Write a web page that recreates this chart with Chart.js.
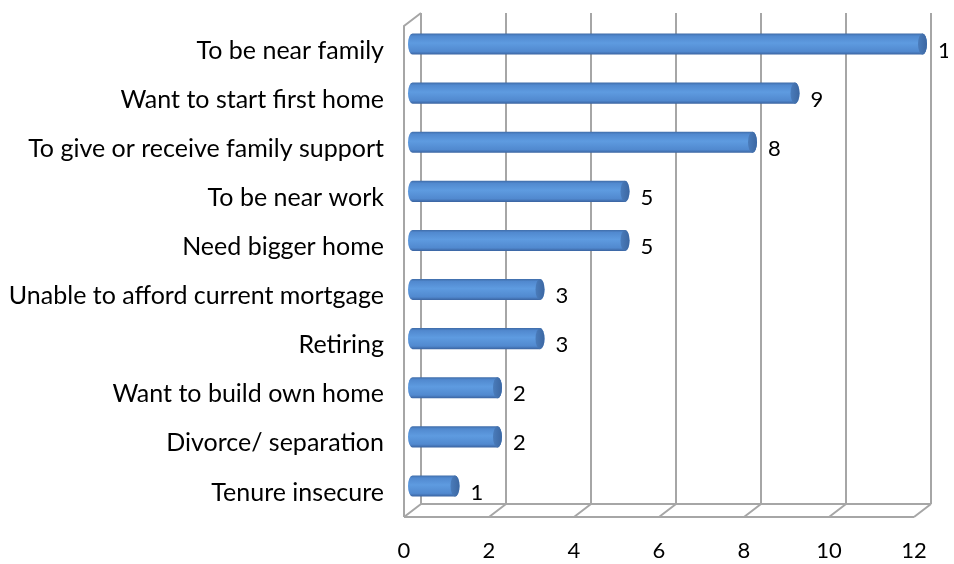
<!DOCTYPE html>
<html>
<head>
<meta charset="utf-8">
<script src="https://cdn.jsdelivr.net/npm/chart.js@4.4.1/dist/chart.umd.min.js"></script>
<style>
  html, body { margin: 0; padding: 0; background: #ffffff; }
  #wrap { position: relative; width: 954px; height: 564px; }
</style>
</head>
<body>
<div id="wrap"><canvas id="chart" width="954" height="564"></canvas></div>
<script>
// Reasons for moving, number of responses
const categories = [
  'To be near family',
  'Want to start first home',
  'To give or receive family support',
  'To be near work',
  'Need bigger home',
  'Unable to afford current mortgage',
  'Retiring',
  'Want to build own home',
  'Divorce/ separation',
  'Tenure insecure'
];
const counts = [12, 9, 8, 5, 5, 3, 3, 2, 2, 1];
const xTicks = [0, 2, 4, 6, 8, 10, 12];

// depth of the 3-D box: back plane is shifted right and up from the front plane
const DEPTH_X = 17;
const DEPTH_Y = 13;
const FONT = 'Lato, "Open Sans", sans-serif';

const frame3d = {
  id: 'frame3d',
  beforeDatasetsDraw(chart) {
    const { ctx, chartArea: ca, scales: { x } } = chart;
    const x0 = x.getPixelForValue(xTicks[0]);
    const xN = x.getPixelForValue(xTicks[xTicks.length - 1]);
    ctx.save();
    ctx.strokeStyle = '#a6a6a6';
    ctx.lineWidth = 2;
    ctx.lineCap = 'butt';
    // back wall gridlines
    xTicks.forEach(v => {
      const px = Math.round(x.getPixelForValue(v) + DEPTH_X);
      ctx.beginPath();
      ctx.moveTo(px, ca.top - DEPTH_Y);
      ctx.lineTo(px, ca.bottom - DEPTH_Y);
      ctx.stroke();
    });
    // left wall
    ctx.beginPath();
    ctx.moveTo(Math.round(x0), ca.bottom);
    ctx.lineTo(Math.round(x0), ca.top);
    ctx.lineTo(Math.round(x0) + DEPTH_X, ca.top - DEPTH_Y);
    ctx.stroke();
    // floor
    ctx.beginPath();
    ctx.moveTo(x0 + DEPTH_X, ca.bottom - DEPTH_Y);
    ctx.lineTo(xN + DEPTH_X, ca.bottom - DEPTH_Y);
    ctx.moveTo(x0, ca.bottom);
    ctx.lineTo(xN, ca.bottom);
    xTicks.forEach(v => {
      const px = x.getPixelForValue(v);
      ctx.moveTo(px, ca.bottom);
      ctx.lineTo(px + DEPTH_X, ca.bottom - DEPTH_Y);
    });
    ctx.stroke();
    ctx.restore();
  },
  afterDatasetsDraw(chart) {
    const { ctx, scales: { x } } = chart;
    const meta = chart.getDatasetMeta(0);
    const ox = DEPTH_X / 2, oy = -DEPTH_Y / 2;
    ctx.save();
    meta.data.forEach((bar) => {
      const p = bar.getProps(['x', 'y', 'base', 'height'], true);
      const yc = p.y + oy;
      const ry = p.height / 2;
      const rx = 4.5;
      const left = p.base + ox;
      const right = p.x + ox;
      const g = ctx.createLinearGradient(0, yc - ry, 0, yc + ry);
      g.addColorStop(0, '#3f6ca8');
      g.addColorStop(0.12, '#5189cf');
      g.addColorStop(0.45, '#5e9be0');
      g.addColorStop(0.85, '#5189cf');
      g.addColorStop(1, '#3a63a0');
      // body with rounded near end
      ctx.beginPath();
      ctx.ellipse(left, yc, rx, ry, 0, Math.PI / 2, Math.PI * 1.5);
      ctx.lineTo(right, yc - ry);
      ctx.ellipse(right, yc, rx, ry, 0, -Math.PI / 2, Math.PI / 2);
      ctx.closePath();
      ctx.fillStyle = g;
      ctx.fill();
      // end cap
      const gc = ctx.createLinearGradient(right - rx, 0, right + rx, 0);
      gc.addColorStop(0, '#4a7cbb');
      gc.addColorStop(1, '#3c67a2');
      ctx.beginPath();
      ctx.ellipse(right, yc, rx, ry, 0, 0, Math.PI * 2);
      ctx.fillStyle = gc;
      ctx.fill();
    });
    // value labels, clipped to the canvas edge
    ctx.beginPath();
    ctx.rect(0, 0, chart.width - 6, chart.height);
    ctx.clip();
    ctx.fillStyle = '#000000';
    ctx.font = '22px ' + FONT;
    ctx.textAlign = 'left';
    ctx.textBaseline = 'middle';
    meta.data.forEach((bar, i) => {
      const v = counts[i];
      ctx.fillText(String(v), x.getPixelForValue(v) + 24, bar.y);
    });
    ctx.restore();
  }
};

new Chart(document.getElementById('chart'), {
  type: 'bar',
  data: {
    labels: categories,
    datasets: [{
      data: counts,
      backgroundColor: 'rgba(0,0,0,0)',
      borderWidth: 0,
      barPercentage: 0.43,
      categoryPercentage: 1
    }]
  },
  options: {
    indexAxis: 'y',
    responsive: true,
    maintainAspectRatio: false,
    devicePixelRatio: 1,
    animation: false,
    layout: { padding: { top: 26, right: 40, left: 0, bottom: 0 } },
    plugins: { legend: { display: false }, tooltip: { enabled: false } },
    scales: {
      x: {
        min: 0, max: 12,
        afterBuildTicks(s) { s.ticks = xTicks.map(v => ({ value: v })); },
        afterFit(s) { s.height = 47; s.paddingLeft = 0; s.paddingRight = 0; },
        grid: { display: false, drawTicks: false },
        border: { display: false },
        ticks: { color: '#000', font: { family: FONT, size: 22 }, padding: 21 }
      },
      y: {
        afterFit(s) { s.width = 404; s.paddingTop = 0; s.paddingBottom = 0; },
        grid: { display: false, drawTicks: false },
        border: { display: false },
        ticks: { color: '#000', font: { family: FONT, size: 25 }, padding: 20, autoSkip: false }
      }
    }
  },
  plugins: [frame3d]
});
</script>
</body>
</html>
